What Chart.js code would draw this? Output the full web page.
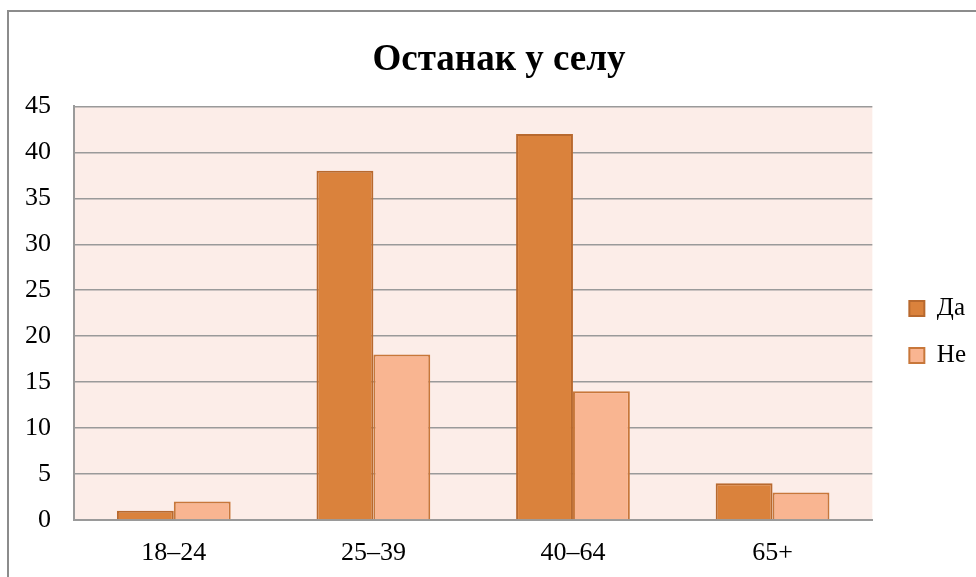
<!DOCTYPE html>
<html>
<head>
<meta charset="utf-8">
<script src="https://cdn.jsdelivr.net/npm/chart.js@4.4.1/dist/chart.umd.min.js"></script>
<style>
  html, body { margin: 0; padding: 0; background: #fff; }
  #wrap { position: relative; width: 976px; height: 577px; overflow: hidden; }
  #frame { position: absolute; left: 7px; top: 10px; width: 1000px; height: 600px;
           border-left: 2px solid #8c8c8c; border-top: 2px solid #8c8c8c; pointer-events: none; }
  canvas { position: absolute; left: 0; top: 0; }
</style>
</head>
<body>
<div id="wrap">
  <canvas id="chart" width="976" height="577"></canvas>
  <div id="frame"></div>
</div>
<script>
// подаци са графикона
const categories = ['18–24', '25–39', '40–64', '65+'];
const daValues = [1, 38, 42, 4];
const neValues = [2, 18, 14, 3];
const yMax = 45;
const yStep = 5;

const serif = '"Liberation Serif", "Times New Roman", serif';

// позадина области цртања
const plotBackground = {
    id: 'plotBackground',
    beforeDraw(chart) {
        const { ctx, chartArea } = chart;
        ctx.save();
        ctx.fillStyle = '#fcede8';
        ctx.fillRect(chartArea.left, chartArea.top, chartArea.right - chartArea.left, chartArea.bottom - chartArea.top);
        ctx.restore();
    }
};

const ctx = document.getElementById('chart').getContext('2d');
new Chart(ctx, {
    type: 'bar',
    data: {
        labels: categories,
        datasets: [
            {
                label: 'Да',
                data: daValues,
                backgroundColor: '#da823c',
                borderColor: '#b8692e',
                borderWidth: 2,
                categoryPercentage: 0.57,
                barPercentage: 1
            },
            {
                label: 'Не',
                data: neValues,
                backgroundColor: '#f9b591',
                borderColor: '#c8773a',
                borderWidth: 2,
                categoryPercentage: 0.57,
                barPercentage: 1
            }
        ]
    },
    options: {
        responsive: false,
        animation: false,
        layout: { padding: { left: 22, right: 0, top: 20, bottom: 8 } },
        plugins: {
            title: {
                display: true,
                text: 'Останак у селу',
                color: '#000',
                font: { family: serif, size: 37, weight: 'bold' },
                padding: { top: 18, bottom: 24 }
            },
            legend: {
                position: 'right',
                title: { display: true, text: '', font: { size: 10 }, padding: { top: 31, bottom: 32 } },
                labels: {
                    color: '#000',
                    font: { family: serif, size: 25 },
                    boxWidth: 15,
                    boxHeight: 15,
                    padding: 22
                }
            },
            tooltip: { enabled: false }
        },
        scales: {
            x: {
                afterFit(scale) { scale.height = 49; },
                grid: { display: false, drawTicks: false },
                border: { display: true, color: '#9a9a9a', width: 2 },
                ticks: { color: '#000', font: { family: serif, size: 26 }, padding: 18 }
            },
            y: {
                min: 0,
                max: yMax,
                afterFit(scale) { scale.width = 52; },
                grid: { color: '#9a9a9a', lineWidth: 1.5, drawTicks: false },
                border: { display: true, color: '#9a9a9a', width: 2 },
                ticks: { stepSize: yStep, color: '#000', font: { family: serif, size: 26 }, padding: 23 }
            },
            // празна оса само као размак до легенде
            gap: {
                position: 'right',
                afterFit(scale) { scale.width = 15; },
                grid: { display: false },
                border: { display: false },
                ticks: { display: false }
            }
        }
    },
    plugins: [plotBackground]
});
</script>
</body>
</html>
